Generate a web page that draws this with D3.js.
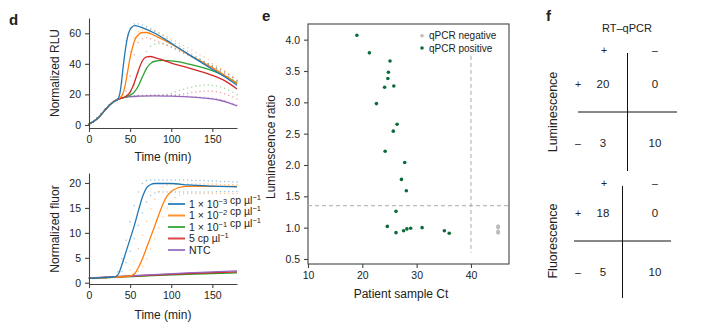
<!DOCTYPE html>
<meta charset="utf-8">
<head>
<style>
body { margin: 0; background: #fff; }
text { font-family: "Liberation Sans", Arial, sans-serif; fill: #222; }
.axis path, .axis line { stroke: #444; stroke-width: 1.1; }
.axis text { font-size: 10.5px; fill: #222; }
</style>
<script src="https://cdn.jsdelivr.net/npm/d3@7"></script>
</head>
<body>
<svg id="fig" width="713" height="327"></svg>
<script>
// ---- data: panel d ----
var colors = ["#1f77b4", "#ff7f0e", "#2ca02c", "#d62728", "#9467bd"];
var legendText = ["1 × 10{−3} cp µl{−1}", "1 × 10{−2} cp µl{−1}", "1 × 10{−1} cp µl{−1}", "5 cp µl{−1}", "NTC"];
var timeTicks = [0, 50, 100, 150];
var rluTicks = [0, 20, 40, 60];
var fluorTicks = [0, 5, 10, 15, 20];

// smoothed curves, [time, value]
var rluBlue = [[0,0.5],[10,4],[20,10],[25,13],[30,15.2],[35,16.8],[38,22],[42,40],[45,52],[48,60],[52,64],[56,65],[62,64.2],[70,62.5],[80,60],[100,53.5],[120,46.5],[150,36.5],[165,31.5],[180,26]];
var rluOrange = [[0,0.5],[10,4],[20,10],[25,13],[30,15.2],[35,16.8],[40,19],[44,26],[47,35],[50,44],[53,51],[56,56],[60,59],[65,60.5],[70,60.5],[80,58.5],[100,53],[120,46.5],[150,37.5],[165,32.5],[180,27]];
var rluGreen = [[0,0.5],[10,4],[20,10],[25,13],[30,15.2],[35,16.7],[40,17.6],[45,18.3],[50,19.5],[55,21.5],[60,25.5],[65,31.5],[70,37],[75,40.3],[80,41.7],[90,42.2],[100,42],[110,41.3],[120,40],[135,38],[150,35.5],[165,32],[180,27.5]];
var rluRed = [[0,0.5],[10,4],[20,10],[25,13],[30,15.2],[35,16.7],[40,17.6],[45,18.8],[50,21.5],[55,27.5],[60,35.5],[65,42],[70,44.5],[75,44.8],[80,44],[90,42.5],[100,40.5],[120,37.5],[150,32.5],[165,29],[180,23.5]];
var rluPurple = [[0,0.5],[10,4],[20,10],[25,13],[30,15.2],[35,16.6],[40,17.6],[45,18.1],[50,18.5],[60,18.8],[80,19],[100,18.8],[120,18.4],[140,17.6],[150,17],[160,16],[170,14.5],[180,12.5]];

var fluBlue = [[0,0.9],[10,0.95],[20,1.05],[30,1.15],[33,1.3],[36,1.8],[40,3.6],[45,6.2],[50,8.8],[55,11.4],[60,14.4],[65,17.2],[70,19],[75,19.7],[80,19.9],[100,19.9],[120,19.6],[150,19.35],[180,19.2]];
var fluOrange = [[0,0.9],[20,1.05],[40,1.2],[48,1.3],[52,1.45],[56,1.9],[60,3],[65,4.8],[70,7],[75,9.2],[80,11.4],[85,13.7],[90,15.8],[95,17.4],[100,18.3],[105,18.8],[110,19.1],[120,19.3],[150,19.3],[180,19.3]];
var fluGreen = [[0,0.9],[60,1.3],[120,1.7],[180,2.0]];
var fluRed = [[0,0.9],[60,1.4],[120,1.85],[180,2.2]];
var fluPurple = [[0,0.95],[60,1.45],[120,2.0],[180,2.4]];

// replicate readings every 5 min
var repTime = [0,5,10,15,20,25,30,35,40,45,50,55,60,65,70,75,80,85,90,95,100,105,110,115,120,125,130,135,140,145,150,155,160,165,170,175,180];
var rluRepBlue = [0.5,2,4.5,7.5,10.5,13.3,15.3,17,28,55,63.5,66,66,65.5,64.2,63,61.5,60,58.5,56.8,55,53.3,51.6,49.9,48.2,46.5,44.8,43.2,41.6,40,38.2,36.7,35.2,33.5,31.5,29.8,28];
var rluRepOrange = [0.5,2,4.5,7.5,10.5,13.3,15.3,16.8,20,33,48,57,61,62.5,63,62.5,61.5,60.3,59,57.7,56.3,55,53.5,52,50.5,49,47.5,46,44.5,43,40.3,38.8,37.2,35.5,33.6,31.6,29.5];
var rluRepRed = [0.5,2,4.5,7.5,10.5,13.3,15.3,16.8,17.8,22,32,46,54,56.5,57,56.5,55.5,54.5,53.3,52,50.8,49.5,48.2,47,45.8,44.5,43.2,42,40.8,39.6,38.4,37.2,36,34.5,32.8,31,29];
var rluRepGreen = [0.5,2,4.5,7.5,10.5,13.3,15.3,16.8,17.6,18.5,21,26,34,42,48,51.5,53,53.3,53,52.3,51.3,50.2,49,47.8,46.5,45.2,44,42.8,41.5,40.2,39,37.8,36.4,34.8,33,31,29];
var rluRepGreenLow = [0.5,2,4.5,7.5,10.5,13.3,15.3,16.8,17.5,18,18.4,18.7,18.9,19,19.1,19.2,19.3,19.4,19.6,20,20.6,21.5,22.5,23.4,24.2,24.9,25.5,25.9,26.1,26.1,25.9,25.5,24.9,24,22.8,21.4,19.8];
var rluRepRedLow = [0.5,2,4.5,7.5,10.5,13.3,15.3,16.8,17.6,18.1,18.5,18.7,18.9,19,19.1,19.1,19.2,19.2,19.2,19.2,19.2,19.6,20,20.4,20.8,21.2,21.6,21.9,22.1,22.2,22.1,21.8,21.3,20.5,19.5,18.3,17];
var rluRepPurple = [0.5,2,4.5,7.5,10.5,13.3,15.3,16.8,17.9,18.6,19,19.3,19.4,19.5,19.5,19.6,19.6,19.6,19.6,19.5,19.4,19.3,19.2,19,18.9,18.7,18.5,18.3,18.1,17.8,17.5,17.1,16.6,15.9,15,14,13];

var fluRepBlueHi = [0.9,0.92,0.95,0.98,1.02,1.06,1.2,2.2,4.8,8.5,12.2,15.5,18.2,19.9,20.5,20.6,20.6,20.6,20.6,20.6,20.6,20.6,20.6,20.6,20.6,20.5,20.5,20.5,20.5,20.4,20.4,20.4,20.3,20.3,20.3,20.2,20.2];
var fluRepBlueLo = [0.9,0.92,0.95,0.98,1.02,1.06,1.1,1.3,2.2,4,6.3,8.8,11.5,14,16.2,17.5,18,18.2,18.2,18.2,18.2,18.2,18.2,18.2,18.2,18.2,18.2,18.2,18.2,18.2,18.2,18.3,18.3,18.3,18.3,18.3,18.3];
var fluRepOrangeHi = [0.9,0.92,0.95,0.98,1.02,1.06,1.1,1.15,1.2,1.5,2.5,4.3,6.8,9.5,12.3,14.8,16.8,18.3,19.2,19.6,19.8,19.8,19.8,19.8,19.8,19.8,19.8,19.8,19.8,19.8,19.8,19.8,19.7,19.7,19.7,19.7,19.7];
var fluRepOrangeLo = [0.9,0.92,0.95,0.98,1.02,1.06,1.1,1.12,1.15,1.25,1.4,1.7,2.3,3.3,4.8,6.7,8.8,11,13.2,15,16.3,17.1,17.6,17.8,17.9,17.9,17.9,17.9,17.9,17.9,17.9,17.9,17.9,17.9,17.9,17.9,17.9];

// ---- data: panel e ----
var posCt = [19.0,21.3,25.1,24.8,24.7,24.1,25.8,22.6,26.4,25.7,24.2,27.8,27.2,28.1,26.2,24.6,26.2,27.6,28.2,28.9,31.0,35.1,36.0];
var posRatio = [4.07,3.79,3.66,3.48,3.38,3.24,3.26,2.98,2.65,2.54,2.22,2.04,1.77,1.59,1.26,1.02,0.92,0.95,0.98,0.99,1.0,0.95,0.91];
var negCt = [45,45,45,45,45,45,45,45,45,45];
var negRatio = [1.02,1.01,1.02,1.0,1.01,0.93,0.92,0.93,0.94,0.92];
var ctTicks = [10, 20, 30, 40];
var ratioTicks = [0.5, 1.0, 1.5, 2.0, 2.5, 3.0, 3.5, 4.0];
var ratioCutoff = 1.35, ctCutoff = 40;

// ---- data: panel f ----
var lumTable = [[20, 0], [3, 10]];
var fluTable = [[18, 0], [5, 10]];

var svg = d3.select("#fig");

function txt(x, y, s, size, anchor, weight) {
	return svg.append("text").attr("x", x).attr("y", y).attr("font-size", size)
		.attr("text-anchor", anchor || "start").attr("font-weight", weight || "normal").text(s);
}

function rotTxt(x, y, s, size) {
	return svg.append("text").attr("transform", "translate(" + x + "," + y + ") rotate(-90)")
		.attr("font-size", size).attr("text-anchor", "middle").text(s);
}

// ---------- panel d ----------
var x = d3.scaleLinear().domain([0, 180]).range([89, 237]);
var yTop = d3.scaleLinear().domain([-2, 70]).range([128, 18]);
var yBot = d3.scaleLinear().domain([-0.25, 22]).range([284, 173]);

function drawPanel(y, base, ticks, lines, reps) {
	var g = svg.append("g");
	reps.forEach(function (r) {
		g.append("g").selectAll("circle")
			.data(r.vals)
			.enter()
			.append("circle")
			.attr("cx", function (d, i) { return x(repTime[i]); })
			.attr("cy", function (d) { return y(d); })
			.attr("r", 0.75)
			.attr("fill", colors[r.c])
			.attr("opacity", 0.45);
	});
	var line = d3.line()
		.x(function (d) { return x(d[0]); })
		.y(function (d) { return y(d[1]); })
		.curve(d3.curveMonotoneX);
	lines.forEach(function (l, i) {
		g.append("path").attr("d", line(l.d)).attr("fill", "none")
			.attr("stroke", colors[l.c]).attr("stroke-width", 1.3);
	});
	svg.append("g").attr("class", "axis").attr("transform", "translate(0," + base + ")")
		.call(d3.axisBottom(x).tickValues(timeTicks).tickSize(4).tickPadding(4).tickSizeOuter(0));
	svg.append("g").attr("class", "axis").attr("transform", "translate(89,0)")
		.call(d3.axisLeft(y).tickValues(ticks).tickSize(4).tickPadding(4).tickSizeOuter(0));
}

drawPanel(yTop, 128, rluTicks,
	[{ d: rluPurple, c: 4 }, { d: rluGreen, c: 2 }, { d: rluRed, c: 3 }, { d: rluOrange, c: 1 }, { d: rluBlue, c: 0 }],
	[{ vals: rluRepPurple, c: 4 }, { vals: rluRepGreenLow, c: 2 }, { vals: rluRepRedLow, c: 3 }, { vals: rluRepGreen, c: 2 },
	 { vals: rluRepRed, c: 3 }, { vals: rluRepOrange, c: 1 }, { vals: rluRepBlue, c: 0 }]);

drawPanel(yBot, 284, fluorTicks,
	[{ d: fluGreen, c: 2 }, { d: fluRed, c: 3 }, { d: fluPurple, c: 4 }, { d: fluOrange, c: 1 }, { d: fluBlue, c: 0 }],
	[{ vals: fluRepBlueHi, c: 0 }, { vals: fluRepBlueLo, c: 0 }, { vals: fluRepOrangeHi, c: 1 }, { vals: fluRepOrangeLo, c: 1 }]);

txt(9, 25, "d", 15, "start", "bold");
rotTxt(59, 73, "Normalized RLU", 12);
txt(163, 161, "Time (min)", 12, "middle");
rotTxt(59, 229, "Normalized fluor", 12);
txt(163, 319, "Time (min)", 12, "middle");

// legend
var leg = svg.append("g");
legendText.forEach(function (s, i) {
	var ly = 204 + i * 11.5;
	leg.append("line").attr("x1", 168).attr("x2", 185).attr("y1", ly).attr("y2", ly)
		.attr("stroke", colors[i]).attr("stroke-width", 2).attr("opacity", 0.85);
	var t = leg.append("text").attr("x", 189).attr("y", ly + 3.8).attr("font-size", 10.5);
	s.split(/(\{[^}]*\})/).forEach(function (part) {
		if (!part) return;
		if (part[0] == "{") {
			t.append("tspan").attr("dy", -4).attr("font-size", 7.5).text(part.slice(1, -1));
			t.append("tspan").attr("dy", 4).text("");
		} else {
			t.append("tspan").text(part);
		}
	});
});

// ---------- panel e ----------
var xe = d3.scaleLinear().domain([10, 47]).range([308, 509]);
var ye = d3.scaleLinear().domain([0.42, 4.25]).range([264, 24]);

svg.append("g").attr("class", "axis").attr("transform", "translate(0,264)")
	.call(d3.axisBottom(xe).tickValues(ctTicks).tickSize(4).tickPadding(4).tickSizeOuter(0))
	.select(".domain").remove();
svg.append("g").attr("class", "axis").attr("transform", "translate(308,0)")
	.call(d3.axisLeft(ye).tickValues(ratioTicks).tickFormat(d3.format(".1f")).tickSize(4).tickPadding(4).tickSizeOuter(0))
	.select(".domain").remove();
svg.append("rect").attr("x", xe(10)).attr("y", ye(4.25))
	.attr("width", xe(47) - xe(10)).attr("height", ye(0.42) - ye(4.25))
	.attr("fill", "none").attr("stroke", "#444").attr("stroke-width", 1.1);

svg.append("line").attr("x1", xe(10)).attr("x2", xe(47)).attr("y1", ye(ratioCutoff)).attr("y2", ye(ratioCutoff))
	.attr("stroke", "#aaa").attr("stroke-dasharray", "4,3");
svg.append("line").attr("x1", xe(ctCutoff)).attr("x2", xe(ctCutoff)).attr("y1", ye(3.74)).attr("y2", ye(0.6))
	.attr("stroke", "#aaa").attr("stroke-dasharray", "4,3");

svg.append("g").selectAll("circle")
	.data(negCt)
	.enter()
	.append("circle")
	.attr("cx", function (d) { return xe(d); })
	.attr("cy", function (d, i) { return ye(negRatio[i]); })
	.attr("r", 1.8)
	.attr("fill", "#bdbdbd");
svg.append("g").selectAll("circle")
	.data(posCt)
	.enter()
	.append("circle")
	.attr("cx", function (d) { return xe(d); })
	.attr("cy", function (d, i) { return ye(posRatio[i]); })
	.attr("r", 1.8)
	.attr("fill", "#0b6b3a");

svg.append("circle").attr("cx", 422).attr("cy", 35.7).attr("r", 1.8).attr("fill", "#bdbdbd");
svg.append("circle").attr("cx", 422).attr("cy", 48).attr("r", 1.8).attr("fill", "#0b6b3a");
txt(429, 39.3, "qPCR negative", 10);
txt(429, 51.6, "qPCR positive", 10);

txt(262, 21, "e", 15, "start", "bold");
rotTxt(275, 147, "Luminescence ratio", 12);
txt(401, 298, "Patient sample Ct", 12, "middle");

// ---------- panel f ----------
txt(546, 21, "f", 15, "start", "bold");
txt(627, 32, "RT–qPCR", 11, "middle");

function drawTable(tab, top, vx, hx1, hx2, hy, bottom, label) {
	txt(604, top + 4, "+", 10.5, "middle");
	txt(655, top + 4, "–", 10.5, "middle");
	svg.append("line").attr("x1", vx).attr("x2", vx).attr("y1", top + 3).attr("y2", bottom).attr("stroke", "#111");
	svg.append("line").attr("x1", hx1).attr("x2", hx2).attr("y1", hy).attr("y2", hy).attr("stroke", "#111");
	var rows = [hy - 28, hy + 31];
	["+", "–"].forEach(function (s, r) {
		txt(578, rows[r] + 4, s, 10.5, "middle");
		tab[r].forEach(function (v, c) {
			txt(c == 0 ? 603 : 655, rows[r] + 4, v, 11.5, "middle");
		});
	});
	rotTxt(557, hy, label, 12.5);
}
drawTable(lumTable, 50, 627.5, 578, 677, 112, 171, "Luminescence");
drawTable(fluTable, 183, 622.5, 574, 671, 241, 298, "Fluorescence");
</script>
</body>
